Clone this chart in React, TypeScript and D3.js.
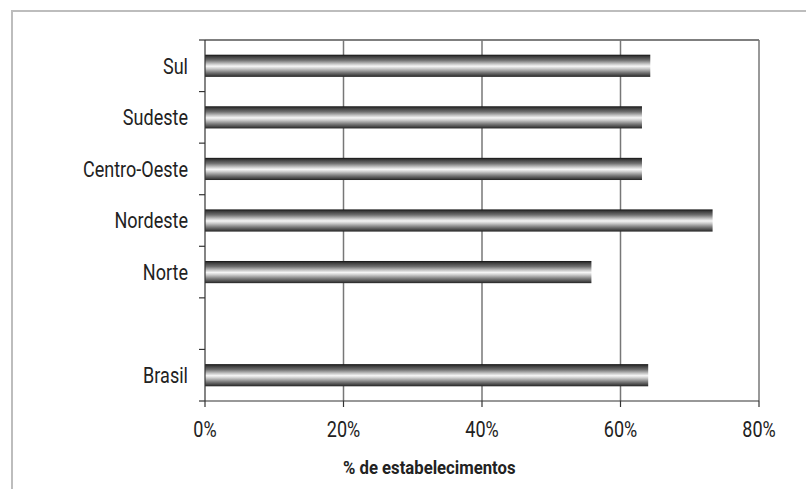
import React from "react";
import * as d3 from "d3";

const categories = ["Brasil", "", "Norte", "Nordeste", "Centro-Oeste", "Sudeste", "Sul"];
const values = [64.0, null, 55.8, 73.3, 63.1, 63.1, 64.3];
const xTicks = [0, 20, 40, 60, 80];
const xTitle = "% de estabelecimentos";

const W = 806;
const H = 489;
const margin = { left: 205, right: 47, top: 40, bottom: 88 };
const font = "Roboto, 'Noto Sans', sans-serif";

// Condensed text: Roboto narrowed horizontally around its anchor point
function Label(props: {
  x: number;
  y: number;
  anchor: "start" | "middle" | "end";
  size: number;
  squeeze: number;
  bold?: boolean;
  dy?: string;
  children: React.ReactNode;
}) {
  return (
    <g transform={`translate(${props.x},${props.y}) scale(${props.squeeze},1)`}>
      <text
        textAnchor={props.anchor}
        dy={props.dy}
        fontFamily={font}
        fontSize={props.size}
        fontWeight={props.bold ? "bold" : "normal"}
        fill="#222"
      >
        {props.children}
      </text>
    </g>
  );
}

export default function App() {
  const x = d3.scaleLinear().domain([0, 80]).range([margin.left, W - margin.right]);
  const y = d3
    .scaleBand<string>()
    .domain(categories.map((c, i) => String(i)).reverse())
    .range([margin.top, H - margin.bottom])
    .paddingInner(0.57)
    .paddingOuter(0.285);
  const band = (H - margin.bottom - margin.top) / categories.length;
  const boundaries = d3.range(categories.length + 1).map((i) => margin.top + i * band);
  const x0 = x(0);
  const x1 = x(80);
  const yTop = margin.top;
  const yBot = H - margin.bottom;

  return (
    <svg width={W} height={H} style={{ position: "absolute", left: 0, top: 0, background: "#fff" }}>
      <defs>
        <linearGradient id="cyl" x1="0" y1="0" x2="0" y2="1">
          <stop offset="0" stopColor="#111" />
          <stop offset="0.08" stopColor="#3a3a3a" />
          <stop offset="0.25" stopColor="#707070" />
          <stop offset="0.42" stopColor="#c8c8c8" />
          <stop offset="0.52" stopColor="#f6f6f6" />
          <stop offset="0.62" stopColor="#cfcfcf" />
          <stop offset="0.8" stopColor="#7a7a7a" />
          <stop offset="0.93" stopColor="#444" />
          <stop offset="1" stopColor="#222" />
        </linearGradient>
      </defs>
      {/* outer frame */}
      <rect x={12} y={11} width={W} height={H} fill="none" stroke="#bdbdbd" strokeWidth={2} />

      {/* plot frame and gridlines */}
      <line x1={x0} x2={x1} y1={yTop} y2={yTop} stroke="#555" strokeWidth={1.5} />
      <line x1={x1} x2={x1} y1={yTop} y2={yBot} stroke="#777" strokeWidth={1.5} />
      {xTicks.slice(1, -1).map((t) => (
        <line key={t} x1={x(t)} x2={x(t)} y1={yTop} y2={yBot} stroke="#777" strokeWidth={1.5} />
      ))}

      {/* bars */}
      {values.map((v, i) =>
        v == null ? null : (
          <rect
            key={i}
            x={x0}
            y={y(String(i))}
            width={x(v) - x0}
            height={y.bandwidth()}
            fill="url(#cyl)"
          />
        )
      )}

      {/* y axis */}
      <line x1={x0} x2={x0} y1={yTop} y2={yBot} stroke="#333" strokeWidth={1.2} />
      {boundaries.map((b, i) => (
        <line key={i} x1={x0 - 6} x2={x0} y1={b} y2={b} stroke="#333" strokeWidth={1.2} />
      ))}
      {categories.map((c, i) =>
        c ? (
          <Label
            key={i}
            x={188}
            y={(y(String(i)) as number) + y.bandwidth() / 2}
            dy="0.36em"
            anchor="end"
            size={22}
            squeeze={0.82}
          >
            {c}
          </Label>
        ) : null
      )}

      {/* x axis */}
      <line x1={x0} x2={x1} y1={yBot} y2={yBot} stroke="#333" strokeWidth={1.2} />
      {xTicks.map((t) => (
        <g key={t}>
          <line x1={x(t)} x2={x(t)} y1={yBot} y2={yBot + 6} stroke="#333" strokeWidth={1.2} />
          <Label x={x(t)} y={437} anchor="middle" size={22} squeeze={0.82}>
            {t}%
          </Label>
        </g>
      ))}
      <Label x={343} y={474} anchor="start" size={19} squeeze={0.88} bold>
        {xTitle}
      </Label>
    </svg>
  );
}
